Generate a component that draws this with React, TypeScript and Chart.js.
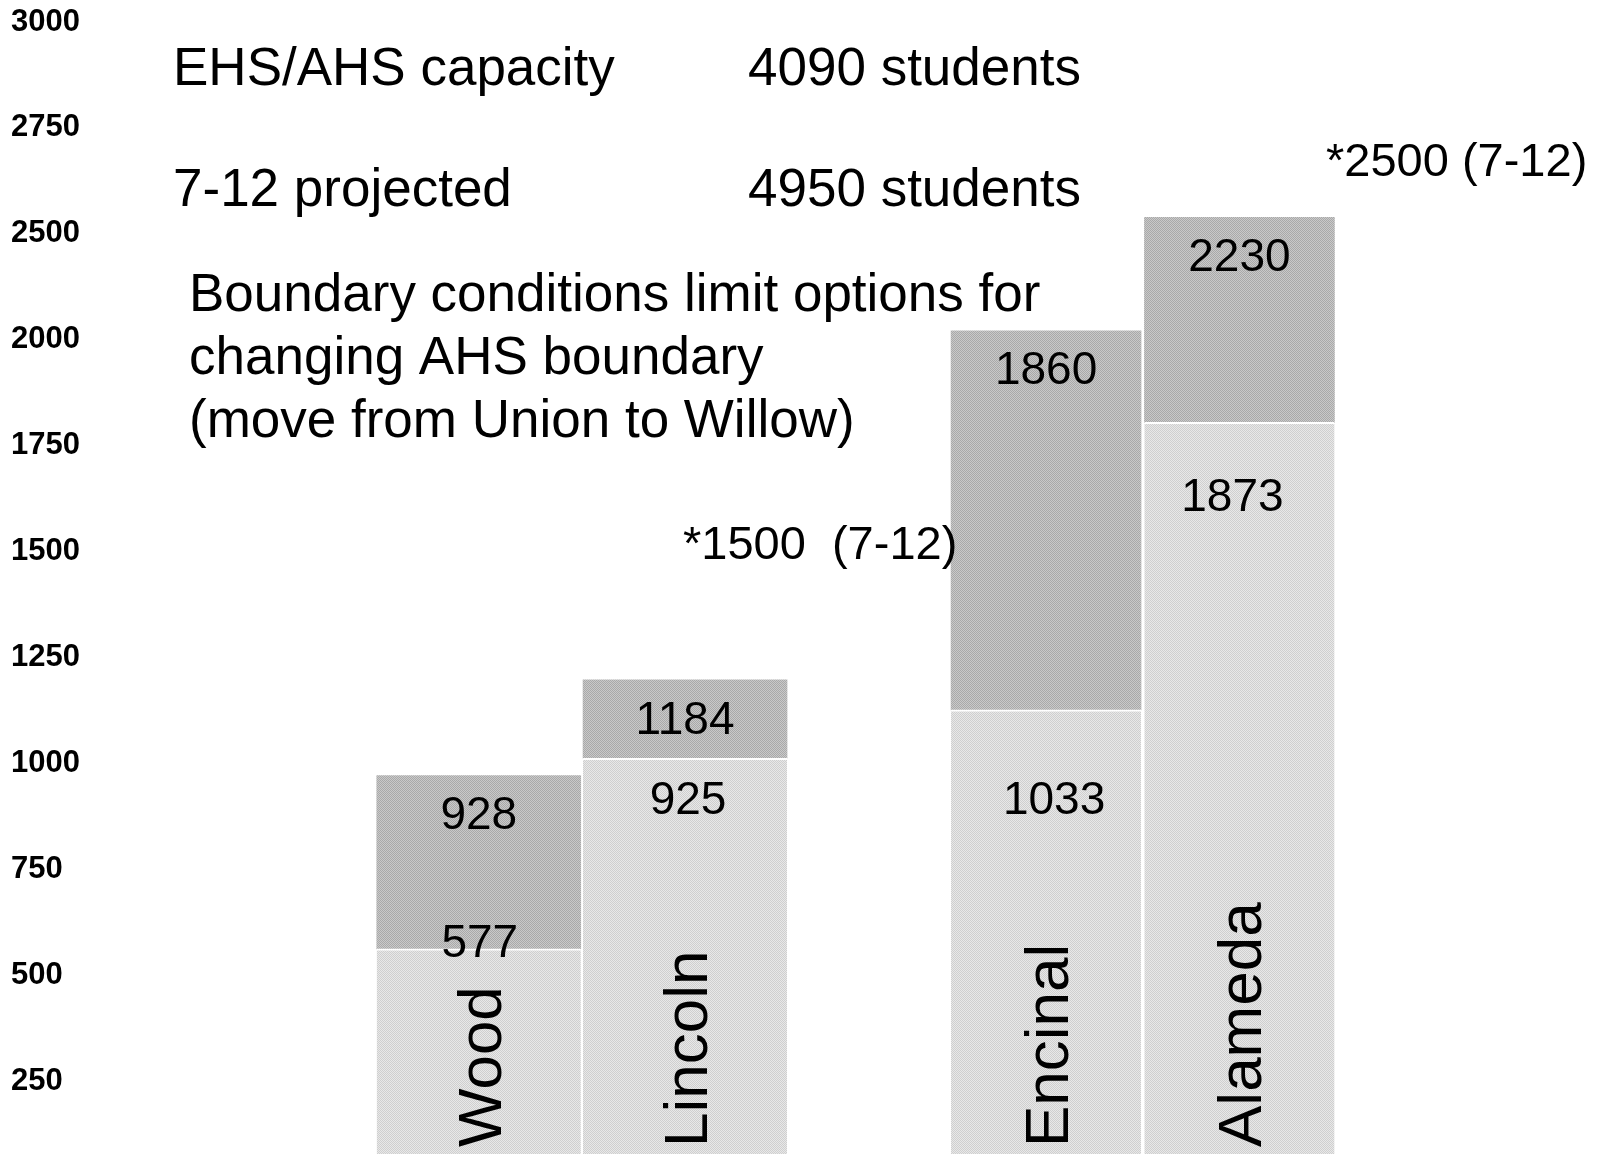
import React, { useEffect, useRef } from 'react';
import { Chart, registerables } from 'chart.js';

Chart.register(...registerables);

// ---- data ----
const schools = ['Wood', 'Lincoln', 'Encinal', 'Alameda'];
const schoolSlots = [28, 44, 72, 87];
const slotCount = 115;
const baseValues = [562, 1012, 1126, 1805];
const totalValues = [971, 1197, 2021, 2289];
const baseLabels = ['577', '925', '1033', '1873'];
const totalLabels = ['928', '1184', '1860', '2230'];
const schoolGroup = [0, 0, 1, 1];
const yTickValues = [250, 500, 750, 1000, 1250, 1500, 1750, 2000, 2250, 2500, 2750];
const yTickLabels = ['250', '500', '750', '1000', '1250', '1500', '1750', '2000', '2500', '2750', '3000'];
const capacityRows = [
  ['EHS/AHS capacity', '4090 students'],
  ['7-12 projected', '4950 students'],
];
const boundaryNote = ['Boundary conditions limit options for', 'changing AHS boundary', '(move from Union to Willow)'];
const footnotes = ['*1500  (7-12)', '*2500 (7-12)'];

// ---- style / layout ----
const FONT = '"Liberation Sans", Arial, Helvetica, sans-serif';
const groupThickness = [204, 190];
const baseLabelOffset = [[1, -5], [3, 43], [8, 91], [-7, 76]];
const totalLabelOffset = 41;

function makePattern(a: string, b: string): CanvasPattern | string {
  const c = document.createElement('canvas');
  c.width = 4;
  c.height = 4;
  const g = c.getContext('2d');
  if (!g) return a;
  for (let y = 0; y < 4; y++) {
    for (let x = 0; x < 4; x++) {
      g.fillStyle = (x + y) % 2 === 0 ? a : b;
      g.fillRect(x, y, 1, 1);
    }
  }
  const p = g.createPattern(c, 'repeat');
  return p || a;
}

function seriesFor(values: number[], group: number) {
  const arr: (number | null)[] = Array(slotCount).fill(null);
  schools.forEach((_, i) => {
    if (schoolGroup[i] === group) arr[schoolSlots[i]] = values[i];
  });
  return arr;
}

export default function App() {
  const ref = useRef<HTMLCanvasElement>(null);

  useEffect(() => {
    if (!ref.current) return;
    const lightFill = makePattern('#cfcfcf', '#e8e8e8');
    const darkFill = makePattern('#a9a9a9', '#c9c9c9');
    const upperValues = totalValues.map((t, i) => t - baseValues[i]);

    const baseDs = (g: number) => ({
      data: seriesFor(baseValues, g),
      backgroundColor: lightFill,
      borderColor: '#ffffff',
      borderWidth: { top: 2, left: 0, right: 0, bottom: 0 },
      borderSkipped: false,
      barThickness: groupThickness[g],
      stack: 's',
    });
    const upperDs = (g: number) => ({
      data: seriesFor(upperValues, g),
      backgroundColor: darkFill,
      borderWidth: 0,
      barThickness: groupThickness[g],
      stack: 's',
    });

    const textPlugin = {
      id: 'texts',
      afterDatasetsDraw(chart: any) {
        const ctx = chart.ctx;
        ctx.save();
        ctx.fillStyle = '#000';
        ctx.textAlign = 'center';
        ctx.textBaseline = 'middle';
        ctx.font = `46px ${FONT}`;
        schools.forEach((name, i) => {
          const g = schoolGroup[i];
          const baseEl = chart.getDatasetMeta(g).data[schoolSlots[i]];
          const upEl = chart.getDatasetMeta(2 + g).data[schoolSlots[i]];
          ctx.fillText(totalLabels[i], upEl.x, upEl.y + totalLabelOffset);
          ctx.fillText(baseLabels[i], baseEl.x + baseLabelOffset[i][0], baseEl.y + baseLabelOffset[i][1]);
        });
        // school names, rotated
        ctx.font = `62px ${FONT}`;
        ctx.textAlign = 'left';
        ctx.textBaseline = 'alphabetic';
        schools.forEach((name, i) => {
          const g = schoolGroup[i];
          const el = chart.getDatasetMeta(g).data[schoolSlots[i]];
          ctx.save();
          ctx.translate(el.x, chart.chartArea.bottom - 7);
          ctx.rotate(-Math.PI / 2);
          ctx.fillText(name, 0, 22);
          ctx.restore();
        });
        // annotations
        ctx.font = `53px ${FONT}`;
        ctx.fillText(capacityRows[0][0], 173, 85);
        ctx.fillText(capacityRows[0][1], 748, 85);
        ctx.fillText(capacityRows[1][0], 173, 206);
        ctx.fillText(capacityRows[1][1], 748, 206);
        boundaryNote.forEach((line, k) => ctx.fillText(line, 189, 311 + k * 63));
        ctx.font = `47px ${FONT}`;
        ctx.fillText(footnotes[0], 683, 559);
        ctx.fillText(footnotes[1], 1326, 176);
        ctx.restore();
      },
    };

    const chart = new Chart(ref.current, {
      type: 'bar',
      data: {
        labels: Array(slotCount).fill(''),
        datasets: [baseDs(0), baseDs(1), upperDs(0), upperDs(1)] as any,
      },
      options: {
        animation: false,
        responsive: false,
        maintainAspectRatio: false,
        devicePixelRatio: 1,
        layout: { padding: { left: 11, right: 5, top: 22, bottom: 0 } },
        plugins: { legend: { display: false }, tooltip: { enabled: false } },
        scales: {
          x: { type: 'category', display: false, stacked: true, grid: { display: false } },
          y: {
            type: 'linear',
            min: 77.7,
            max: 2750,
            stacked: true,
            grid: { display: false },
            border: { display: false },
            afterBuildTicks: (ax: any) => {
              ax.ticks = yTickValues.map((v) => ({ value: v }));
            },
            afterFit: (ax: any) => {
              ax.width = 100.3;
              ax.paddingTop = 0;
              ax.paddingBottom = 0;
            },
            ticks: {
              autoSkip: false,
              crossAlign: 'far',
              padding: 0,
              color: '#000',
              font: { family: FONT, size: 31, weight: 'bold' },
              callback: (_v: any, idx: number) => yTickLabels[idx],
            },
          },
        },
      } as any,
      plugins: [textPlugin],
    });
    return () => chart.destroy();
  }, []);

  return (
    <div style={{ position: 'absolute', left: 0, top: 0, width: 1599, height: 1154, background: '#fff' }}>
      <canvas ref={ref} width={1599} height={1154} style={{ display: 'block' }} />
    </div>
  );
}
